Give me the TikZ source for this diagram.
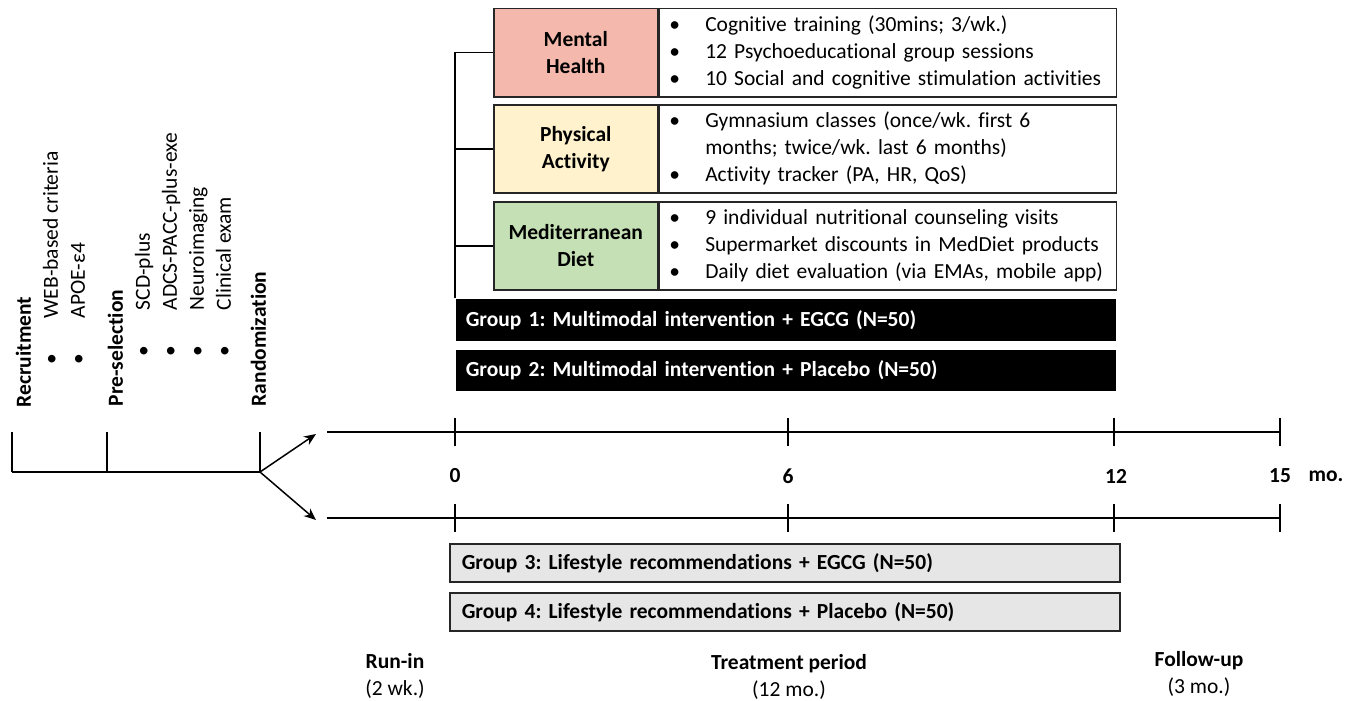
\documentclass[tikz,border=0pt]{standalone}
\usepackage{fontspec}
\setmainfont[Ligatures = NoCommon]{Carlito}
\usetikzlibrary{positioning, arrows.meta}
\definecolor{mentalred}{HTML}{F4B9AC}
\definecolor{physyellow}{HTML}{FFF2CC}
\definecolor{dietgreen}{HTML}{C5E0B4}
\definecolor{lifegray}{HTML}{E7E6E6}
\definecolor{edgegray}{HTML}{262626}
\newcommand{\boxitem}[1]{\makebox[33pt][l]{\hspace{-3pt}\textbullet}#1}
\newcommand{\sideitem}[2][43pt]{\hspace*{#1}\makebox[46pt][l]{\textbullet}#2}
\tikzset{
    catbox/.style = {draw = edgegray, line width = 1.5pt, minimum width = 164pt, minimum height = 88pt, inner sep = 0pt, align = center, font = \bfseries},
    listbox/.style = {draw = edgegray, line width = 1.5pt, minimum height = 88pt, inner xsep = 13pt, text width = 431pt, align = left},
    groupbox/.style = {fill = black, text = white, font = \bfseries, minimum height = 42pt, inner xsep = 10pt, text width = 640pt, align = left},
    lifebox/.style = {draw = edgegray, fill = lifegray, line width = 1.5pt, font = \bfseries, minimum height = 38pt, inner xsep = 12pt, text width = 646pt, align = left},
    sidelist/.style = {rotate = 90, anchor = north west, align = left, inner sep = 0pt},
    phase/.style = {align = center}
}
\begin{document}
\frenchspacing
\fontsize{21.5}{27}\selectfont
\begin{tikzpicture}[x = 1pt, y = -1pt, line width = 1.5pt]
    \useasboundingbox (0,0) rectangle (1362,701);
    \node[catbox, fill = mentalred, anchor = north west] (mental) at (493,8) {Mental\\Health};
    \node[listbox, right = 0pt of mental] (mentallist) {\boxitem{Cognitive training (30mins; 3/wk.)}\\\boxitem{12 Psychoeducational group sessions}\\\boxitem{10 Social and cognitive stimulation activities}};
    \node[catbox, fill = physyellow, anchor = north west] (physical) at (493,104) {Physical\\Activity};
    \node[listbox, right = 0pt of physical] (physicallist) {\boxitem{Gymnasium classes (once/wk. first 6}\\\hspace*{33pt}months; twice/wk. last 6 months)\\\boxitem{Activity tracker (PA, HR, QoS)}};
    \node[catbox, fill = dietgreen, anchor = north west] (diet) at (493,201) {Mediterranean\\Diet};
    \node[listbox, right = 0pt of diet] (dietlist) {\boxitem{9 individual nutritional counseling visits}\\\boxitem{Supermarket discounts in MedDiet products}\\\boxitem{Daily diet evaluation (via EMAs, mobile app)}};
    \node[groupbox, anchor = north west] (group1) at (455,298) {Group 1: Multimodal intervention + EGCG (N=50)};
    \node[groupbox, anchor = north west, minimum height = 41pt] (group2) at (455,349) {Group 2: Multimodal intervention + Placebo (N=50)};
    \draw (mental.west) -| (group1.north west);
    \draw (physical.west) -- (physical.west -| group1.west);
    \draw (diet.west) -- (diet.west -| group1.west);
    \begin{scope}[line width = 1.2pt]
        \foreach \y in {432, 518} {
            \draw[line width = 1.8pt] (327,\y) -- (1280,\y);
            \foreach \x in {455, 788, 1114, 1280} {
                \draw (\x,\y-14) -- (\x,\y+14);
            }
        }
        \draw (12,472) -- (260,472);
        \foreach \x in {12, 107, 260} {
            \draw (\x,432) -- (\x,472);
        }
    \end{scope}
    \foreach \x/\m in {455/0, 788/6, 1116/12, 1280/15} {
        \node[font = \bfseries] (month\m) at (\x,476) {\m};
    }
    \node[font = \bfseries] (unit) at (1326,476) {mo.};
    \coordinate (rand) at (260,472);
    \coordinate (armup) at (316,434);
    \coordinate (armdown) at (316,520);
    \draw[-{Stealth[length = 12pt, width = 10pt]}] (rand) -- (armup);
    \draw[-{Stealth[length = 12pt, width = 10pt]}] (rand) -- (armdown);
    \node[sidelist] (recruit) at (15,408) {\textbf{Recruitment}\\\sideitem{WEB-based criteria}\\\sideitem{APOE-ε4}};
    \node[sidelist] (presel) at (107,407) {\textbf{Pre-selection}\\\sideitem[50pt]{SCD-plus}\\\sideitem[50pt]{ADCS-PACC-plus-exe}\\\sideitem[50pt]{Neuroimaging}\\\sideitem[50pt]{Clinical exam}};
    \node[sidelist] (random) at (250,407) {\textbf{Randomization}};
    \node[lifebox, anchor = north west] (group3) at (449,543) {Group 3: Lifestyle recommendations + EGCG (N=50)};
    \node[lifebox, anchor = north west] (group4) at (449,592) {Group 4: Lifestyle recommendations + Placebo (N=50)};
    \node[phase] (runin) at (395,676) {\textbf{Run-in}\\(2 wk.)};
    \node[phase] (treat) at (789,677) {\textbf{Treatment period}\\(12 mo.)};
    \node[phase] (follow) at (1199,674) {\textbf{Follow-up}\\(3 mo.)};
\end{tikzpicture}
\end{document}
